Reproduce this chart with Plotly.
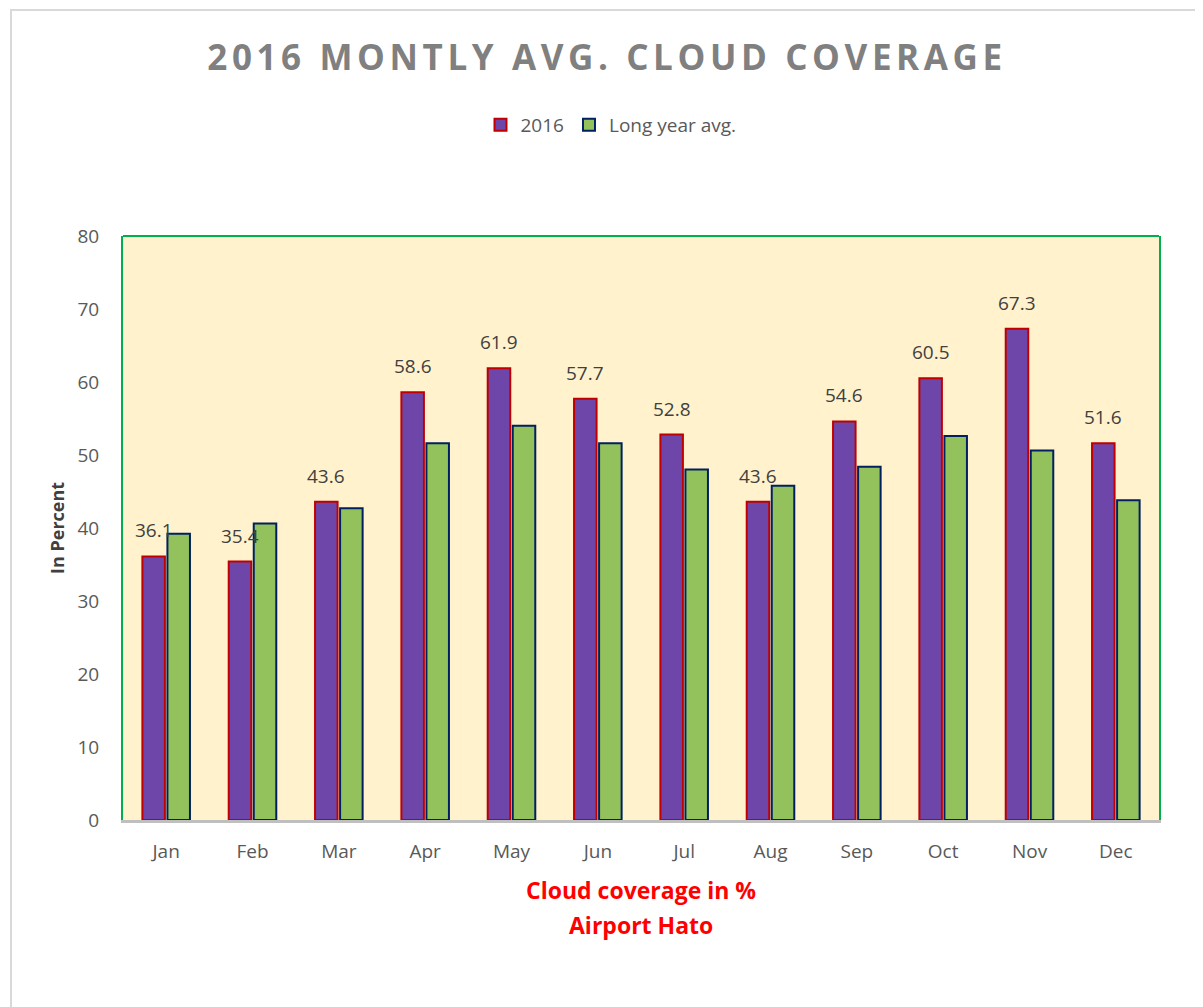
import plotly.graph_objects as go

months = ["Jan", "Feb", "Mar", "Apr", "May", "Jun", "Jul", "Aug", "Sep", "Oct", "Nov", "Dec"]
values_2016 = [36.1, 35.4, 43.6, 58.6, 61.9, 57.7, 52.8, 43.6, 54.6, 60.5, 67.3, 51.6]
values_long = [39.2, 40.6, 42.7, 51.6, 54.0, 51.6, 48.0, 45.8, 48.4, 52.6, 50.6, 43.8]
y_ticks = [0, 10, 20, 30, 40, 50, 60, 70, 80]

FONT = "Open Sans"
OFF = 8  # page body margin
W, H = 1203 - OFF, 1007 - OFF
PL, PR, PT, PB = 123, 1159, 236, 820  # plot area in page pixels
L, T = PL - OFF, PT - OFF
R, B = W - (PR - OFF), H - (PB - OFF)
pw, ph = W - L - R, H - T - B

def px2x(x):
    return (x - PL) / pw

def px2y(y):
    return (PB - y) / ph

fig = go.Figure()
fig.add_trace(go.Bar(
    name="2016", x=months, y=values_2016,
    marker=dict(color="#6E46AA", line=dict(color="#C00000", width=2)),
))
fig.add_trace(go.Bar(
    name="Long year avg.", x=months, y=values_long,
    marker=dict(color="#93C25C", line=dict(color="#002060", width=2)),
))

# data labels above the 2016 bars
for m, v in zip(months, values_2016):
    fig.add_annotation(
        x=m, y=v, xref="x", yref="y", text=f"{v:.1f}", showarrow=False,
        xanchor="center", yanchor="bottom", xshift=-12.5, yshift=11,
        font=dict(family=FONT, size=19, color="#404040"),
    )

fig.update_layout(
    width=W, height=H,
    margin=dict(l=L, r=R, t=T, b=B),
    paper_bgcolor="white", plot_bgcolor="#FFF2CC",
    barmode="group", bargap=0.42, bargroupgap=0.1,
    font=dict(family=FONT, color="#595959"),
    title=dict(
        text="<b><span style='letter-spacing:4.6px'>2016 MONTLY AVG. CLOUD COVERAGE</span></b>",
        x=(607 - OFF) / W, xanchor="center", y=1 - (58 - OFF) / H, yanchor="middle",
        font=dict(family=FONT, size=35, color="#808080"),
    ),
    legend=dict(
        orientation="h", x=px2x(611), xanchor="center", y=px2y(125), yanchor="middle",
        font=dict(family=FONT, size=19, color="#595959"),
        itemwidth=30, traceorder="normal",
    ),
    showlegend=True,
)

fig.update_xaxes(
    showline=True, linecolor="#BFBFBF", linewidth=3,
    ticks="outside", ticklen=12, tickcolor="rgba(0,0,0,0)",
    tickfont=dict(family=FONT, size=19, color="#595959"),
    showgrid=False, zeroline=False,
)
fig.update_yaxes(
    range=[0, 80], tickvals=y_ticks,
    showline=True, linecolor="#00B050", linewidth=2, mirror=True,
    ticks="outside", ticklen=18, tickcolor="rgba(0,0,0,0)",
    tickfont=dict(family=FONT, size=19, color="#595959"),
    showgrid=False, zeroline=False,
)

# green top border of the plot area
fig.add_shape(type="line", xref="paper", yref="paper", x0=0, x1=1, y0=1, y1=1,
              line=dict(color="#00B050", width=2))
# outer chart frame
fig.add_shape(type="rect", xref="paper", yref="paper",
              x0=px2x(11), x1=px2x(1250), y0=px2y(1100), y1=px2y(10),
              line=dict(color="#D9D9D9", width=2), layer="below")

fig.add_annotation(
    text="<b>In Percent</b>", textangle=-90, xref="paper", yref="paper",
    x=px2x(57), y=px2y(528), xanchor="center", yanchor="middle", showarrow=False,
    font=dict(family=FONT, size=18, color="#404040"),
)
fig.add_annotation(
    text="<b>Cloud coverage in %</b>", xref="paper", yref="paper",
    x=px2x(641), y=px2y(890), xanchor="center", yanchor="middle", showarrow=False,
    font=dict(family=FONT, size=23, color="#FF0000"),
)
fig.add_annotation(
    text="<b>Airport Hato</b>", xref="paper", yref="paper",
    x=px2x(641), y=px2y(925), xanchor="center", yanchor="middle", showarrow=False,
    font=dict(family=FONT, size=23, color="#FF0000"),
)

fig.write_html("out.html")
